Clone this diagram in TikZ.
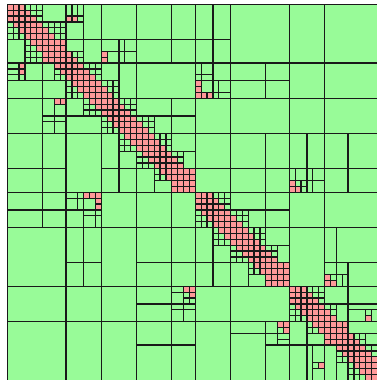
\documentclass[tikz,border=0pt]{standalone}
\definecolor{hg}{RGB}{152,251,152}
\definecolor{hr}{RGB}{255,153,153}
\tikzset{ln/.style={draw=black!90,line width=1.35pt}}
\newcommand\Gridd[4]{%
  \foreach \k in {#1,...,#2}{\draw[ln] (#3,\k) -- (#4,\k); \draw[ln] (\k,#3) -- (\k,#4);}%
  \foreach \k in {#3,...,#4}{\draw[ln] (\k,#1) -- (\k,#2); \draw[ln] (#1,\k) -- (#2,\k);}}
\newcommand\BandFill[4]{%
  \pgfmathtruncatemacro\rra{#1}\pgfmathtruncatemacro\rrb{#2-1}%
  \pgfmathtruncatemacro\cca{#3}\pgfmathtruncatemacro\ccb{#4-1}%
  \foreach \r in {\rra,...,\rrb}{\foreach \c in {\cca,...,\ccb}{%
    \pgfmathtruncatemacro\dd{\c-\r}%
    \ifnum\dd<3 \fill[hr] (\c,\r) rectangle ++(1,1); \fill[hr] (\r,\c) rectangle ++(1,1);\fi}}}
\def\bandlist{0/3/3/6, 3/6/6/10, 8/10/10/13, 10/13/13/16, 13/16/16/19, 16/19/19/22, 19/22/22/25, 22/25/25/28, 25/28/28/30, 32/35/35/38, 35/38/38/41, 38/41/41/44, 41/44/44/46, 48/51/51/54, 51/54/54/56, 56/58/58/61, 58/61/61/64}
\def\diaglist{0/3, 3/6, 6/10, 10/13, 13/16, 16/19, 19/22, 22/25, 25/28, 28/32, 32/35, 35/38, 38/41, 41/44, 44/48, 48/51, 51/54, 54/58, 58/61, 61/64}
\def\redlist{2/3/10/11, 2/3/11/12, 8/9/16/17, 9/10/16/17, 13/14/32/33, 14/15/32/33, 15/16/32/33, 15/16/33/34, 15/16/34/35, 30/31/48/49, 31/32/48/49, 31/32/49/50, 46/47/54/55, 47/48/54/55, 47/48/55/56, 53/54/61/62}
\def\blklist{0/3/6/10,
 0/2/10/11, 0/2/11/12, 0/2/12/13, 2/3/10/11, 2/3/11/12, 2/3/12/13, 3/6/10/13, 6/8/10/13, 0/6/13/16, 6/10/13/16,
 0/6/16/22, 0/6/22/28, 0/6/28/32, 6/8/16/19, 6/8/19/20, 6/8/20/22, 8/9/16/17, 9/10/16/17, 8/10/17/19, 8/10/19/20, 8/10/20/22, 6/10/22/28, 6/10/28/32, 10/13/16/19, 10/16/19/22, 10/16/22/32,
 0/6/32/35, 6/10/32/35, 0/6/35/38, 6/10/35/38, 0/10/38/48, 0/10/48/54, 0/10/54/64,
 10/12/32/33, 10/12/33/35, 12/13/32/33, 12/13/33/35, 10/13/35/38,
 13/14/32/33, 14/15/32/33, 15/16/32/33, 15/16/33/34, 15/16/34/35, 13/15/33/35, 13/15/35/36, 15/16/35/36, 13/15/36/38, 15/16/36/38,
 10/13/38/44, 13/16/38/44, 10/13/44/48, 13/16/44/48, 10/16/48/54, 10/16/54/64,
 16/22/32/38, 16/22/38/48, 16/22/48/54, 16/22/54/64,
 22/28/32/38, 22/28/38/44, 22/28/44/48, 22/28/48/51, 22/28/51/54, 22/28/54/58, 22/28/58/64,
 28/32/32/38, 28/32/38/44, 28/32/44/48, 28/32/54/58, 28/32/58/64,
 28/30/48/49, 28/30/49/51, 28/30/51/52, 28/30/52/54, 30/31/48/49, 31/32/48/49, 30/31/49/50, 30/31/50/51, 31/32/49/50, 31/32/50/51, 30/32/51/52, 30/32/52/54,
 16/19/22/28, 19/22/25/28, 16/19/28/32, 19/22/28/32, 22/25/28/32, 25/28/30/32,
 32/35/38/44, 32/35/44/48, 35/38/41/44, 35/38/44/48, 38/41/44/48, 41/44/46/48,
 32/38/48/54, 32/38/54/64, 38/48/48/54,
 38/44/54/56, 38/44/56/64, 44/46/54/56, 44/48/58/64, 44/46/56/58, 46/47/54/55, 47/48/54/55, 47/48/55/56, 46/47/55/56, 46/48/56/57, 46/48/57/58,
 48/51/54/58, 51/54/56/58, 48/51/58/64, 51/52/58/64, 52/54/58/61, 52/53/61/62, 53/54/61/62, 52/54/62/64, 54/56/58/64, 56/58/61/64}
\begin{document}
\begin{tikzpicture}[x=1pt,y=1pt]
\useasboundingbox (0,0) rectangle (377,-380);
\clip (0,0) rectangle (377,-380);
\begin{scope}[shift={(7.3,-4.3)},x=5.875pt,y=-5.875pt]
  \fill[hg] (0,0) rectangle (64,64);
  \foreach \a/\b in \diaglist {\fill[hr] (\a,\a) rectangle (\b,\b);}
  \foreach \a/\b/\c/\d in \bandlist {\BandFill{\a}{\b}{\c}{\d}}
  \foreach \a/\b/\c/\d in \redlist {\fill[hr] (\c,\a) rectangle (\d,\b); \fill[hr] (\a,\c) rectangle (\b,\d);}
  \foreach \a/\b in \diaglist {\Gridd{\a}{\b}{\a}{\b}}
  \foreach \a/\b/\c/\d in \bandlist {\Gridd{\a}{\b}{\c}{\d}}
  \foreach \a/\b/\c/\d in \blklist {\draw[ln] (\c,\a) rectangle (\d,\b); \draw[ln] (\a,\c) rectangle (\b,\d);}
\end{scope}
\end{tikzpicture}
\end{document}
